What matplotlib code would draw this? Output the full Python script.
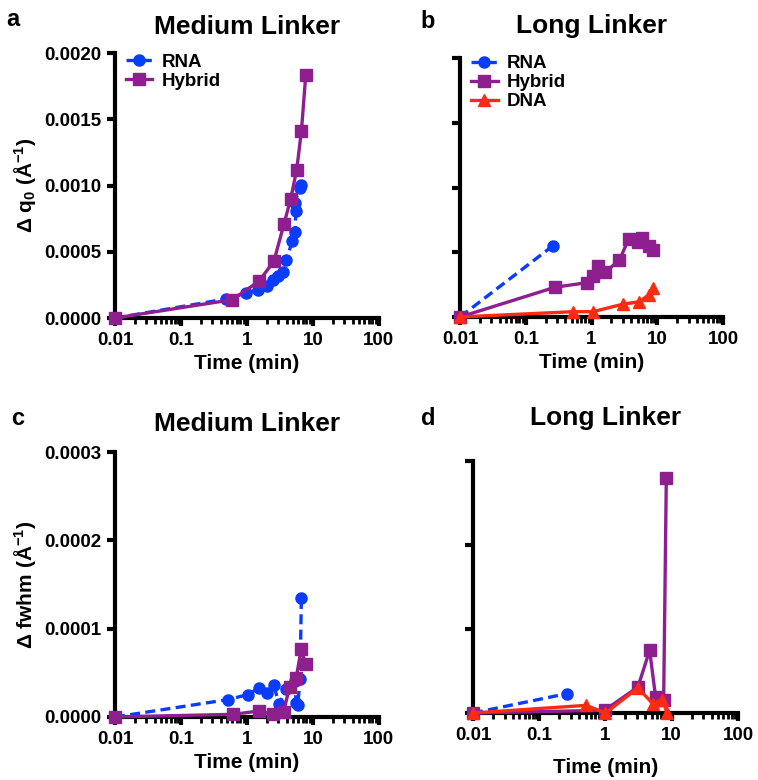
import matplotlib
matplotlib.use("Agg")
import matplotlib.pyplot as plt
from matplotlib.ticker import FixedLocator, FixedFormatter, LogLocator, NullFormatter

plt.rcParams["font.family"] = ["Liberation Sans", "DejaVu Sans"]
plt.rcParams["font.weight"] = "bold"
plt.rcParams["mathtext.fontset"] = "custom"
plt.rcParams["mathtext.rm"] = "Liberation Sans:bold"
plt.rcParams["mathtext.it"] = "Liberation Sans:bold"
plt.rcParams["mathtext.bf"] = "Liberation Sans:bold"

BLUE = "#0a3cff"
PURPLE = "#8e1f8e"
RED = "#ff2a12"

# ---- data ----
# a: medium linker, delta q0
a_rna_t = [0.01, 0.48, 0.98, 1.47, 2.0, 2.5, 3.0, 3.5, 3.9, 4.9, 5.4, 5.5, 5.3, 6.3, 6.6]
a_rna_v = [0.0, 0.000143, 0.000189, 0.000214, 0.000244, 0.000289, 0.000314, 0.000350,
           0.000435, 0.000578, 0.000646, 0.000805, 0.000868, 0.000981, 0.001006]
a_hyb_t = [0.01, 0.6, 1.52, 2.57, 3.66, 4.62, 5.7, 6.72, 7.82]
a_hyb_v = [0.0, 0.000138, 0.000277, 0.000428, 0.000712, 0.000898, 0.00112, 0.001414, 0.001836]

# b: long linker, delta q0
b_rna_t = [0.01, 0.26]
b_rna_v = [0.0, 0.000551]
b_hyb_t = [0.01, 0.28, 0.85, 1.07, 1.25, 1.6, 2.66, 3.65, 5.0, 5.8, 7.35, 8.57]
b_hyb_v = [0.0, 0.00023, 0.000265, 0.00032, 0.00039, 0.000345, 0.00044, 0.0006,
           0.00058, 0.00061, 0.00055, 0.00052]
b_dna_t = [0.01, 0.52, 1.05, 3.06, 5.36, 7.35, 8.57]
b_dna_v = [0.0, 0.000041, 0.000041, 0.0001, 0.000118, 0.00017, 0.000222]

# c: medium linker, delta fwhm
c_rna_t = [0.01, 0.52, 1.04, 1.52, 2.01, 2.57, 3.06, 3.96, 5.29, 5.6, 5.9, 6.4, 6.7]
c_rna_v = [0.0, 1.97e-5, 2.54e-5, 3.28e-5, 2.72e-5, 3.59e-5, 1.44e-5, 3.2e-5, 4.08e-5,
           1.6e-5, 1.3e-5, 4.3e-5, 1.35e-4]
c_hyb_t = [0.01, 0.62, 1.53, 2.48, 3.6, 4.44, 5.6, 6.67, 7.76]
c_hyb_v = [0.0, 3e-6, 6.8e-6, 3e-6, 5.7e-6, 3.4e-5, 4.45e-5, 7.7e-5, 6.0e-5]

# d: long linker, delta fwhm
d_rna_t = [0.01, 0.26]
d_rna_v = [0.0, 2.3e-5]
d_hyb_t = [0.01, 0.97, 3.09, 4.64, 5.71, 7.55, 8.28]
d_hyb_v = [0.0, 3.2e-6, 3.1e-5, 7.47e-5, 1.9e-5, 1.5e-5, 2.8e-4]
d_dna_t = [0.01, 0.51, 1.0, 3.09, 5.2, 7.2, 8.5]
d_dna_v = [0.0, 9.1e-6, 0.0, 2.98e-5, 1.1e-5, 1.6e-5, 0.0]

x_ticks = [0.01, 0.1, 1, 10, 100]
x_tick_labels = ["0.01", "0.1", "1", "10", "100"]
q0_ticks = [0.0, 0.0005, 0.0010, 0.0015, 0.0020]
fwhm_ticks = [0.0, 0.0001, 0.0002, 0.0003]

fig = plt.figure(figsize=(7.58, 7.80), dpi=100)
ax_a = fig.add_axes([0.1517, 0.5923, 0.348, 0.3397])
ax_b = fig.add_axes([0.6069, 0.5936, 0.347, 0.332])
ax_c = fig.add_axes([0.1517, 0.0808, 0.348, 0.3397])
ax_d = fig.add_axes([0.624, 0.0859, 0.3496, 0.323])


def style_axis(ax, yticks, show_ylabels=True):
    ax.set_xscale("log")
    ax.set_xlim(0.01, 100)
    ax.set_ylim(yticks[0], yticks[-1])
    ax.xaxis.set_major_locator(FixedLocator(x_ticks))
    ax.xaxis.set_major_formatter(FixedFormatter(x_tick_labels))
    ax.xaxis.set_minor_locator(LogLocator(base=10, subs=range(2, 10)))
    ax.xaxis.set_minor_formatter(NullFormatter())
    ax.set_yticks(yticks)
    if show_ylabels:
        ax.set_yticklabels([f"{v:.4f}" for v in yticks])
    else:
        ax.set_yticklabels([])
    for side in ("top", "right"):
        ax.spines[side].set_visible(False)
    for side in ("left", "bottom"):
        ax.spines[side].set_linewidth(3.0)
    ax.tick_params(which="major", direction="out", length=6, width=3, labelsize=13.5, pad=4)
    ax.tick_params(which="minor", direction="out", length=4, width=2)
    for lbl in ax.get_xticklabels() + ax.get_yticklabels():
        lbl.set_fontweight("bold")


def plot_series(ax, t, v, color, marker, ls, ms, label):
    ax.plot(t, v, color=color, marker=marker, linestyle=ls, linewidth=2.4,
            markersize=ms, clip_on=False, label=label, zorder=3,
            dashes=(3, 1.6) if ls == "--" else (None, None))


# panel a
plot_series(ax_a, a_rna_t, a_rna_v, BLUE, "o", "--", 8, "RNA")
plot_series(ax_a, a_hyb_t, a_hyb_v, PURPLE, "s", "-", 8.5, "Hybrid")
style_axis(ax_a, q0_ticks)
ax_a.set_title("Medium Linker", fontsize=19, fontweight="bold", pad=14)
ax_a.set_xlabel("Time (min)", fontsize=15, fontweight="bold")
ax_a.set_ylabel(r"Δ q$_0$ (Å$^{-1}$)", fontsize=15, fontweight="bold")
ax_a.legend(loc="upper left", bbox_to_anchor=(0.0, 1.04), frameon=False, fontsize=13.5,
            handlelength=1.4, handletextpad=0.5, labelspacing=0.1, borderaxespad=0.2)

# panel b
plot_series(ax_b, b_rna_t, b_rna_v, BLUE, "o", "--", 8, "RNA")
plot_series(ax_b, b_hyb_t, b_hyb_v, PURPLE, "s", "-", 8.5, "Hybrid")
plot_series(ax_b, b_dna_t, b_dna_v, RED, "^", "-", 8, "DNA")
style_axis(ax_b, q0_ticks, show_ylabels=False)
ax_b.set_title("Long Linker", fontsize=19, fontweight="bold", pad=18)
ax_b.set_xlabel("Time (min)", fontsize=15, fontweight="bold")
ax_b.legend(loc="upper left", bbox_to_anchor=(0.0, 1.055), frameon=False, fontsize=13.5,
            handlelength=1.4, handletextpad=0.5, labelspacing=0.1, borderaxespad=0.2)

# panel c
plot_series(ax_c, c_rna_t, c_rna_v, BLUE, "o", "--", 8, "RNA")
plot_series(ax_c, c_hyb_t, c_hyb_v, PURPLE, "s", "-", 8.5, "Hybrid")
style_axis(ax_c, fwhm_ticks)
ax_c.set_title("Medium Linker", fontsize=19, fontweight="bold", pad=15)
ax_c.set_xlabel("Time (min)", fontsize=15, fontweight="bold")
ax_c.set_ylabel(r"Δ fwhm (Å$^{-1}$)", fontsize=15, fontweight="bold")

# panel d
plot_series(ax_d, d_rna_t, d_rna_v, BLUE, "o", "--", 8, "RNA")
plot_series(ax_d, d_hyb_t, d_hyb_v, PURPLE, "s", "-", 8.5, "Hybrid")
plot_series(ax_d, d_dna_t, d_dna_v, RED, "^", "-", 8, "DNA")
style_axis(ax_d, fwhm_ticks, show_ylabels=False)
ax_d.set_title("Long Linker", fontsize=19, fontweight="bold", pad=26)
ax_d.set_xlabel("Time (min)", fontsize=15, fontweight="bold", labelpad=10)

# panel letters
for letter, (x, y) in zip("abcd", [(0.008, 0.975), (0.555, 0.972), (0.015, 0.463), (0.555, 0.463)]):
    fig.text(x, y, letter, fontsize=17, fontweight="bold", ha="left", va="center")

fig.savefig("out.png", dpi=100)
